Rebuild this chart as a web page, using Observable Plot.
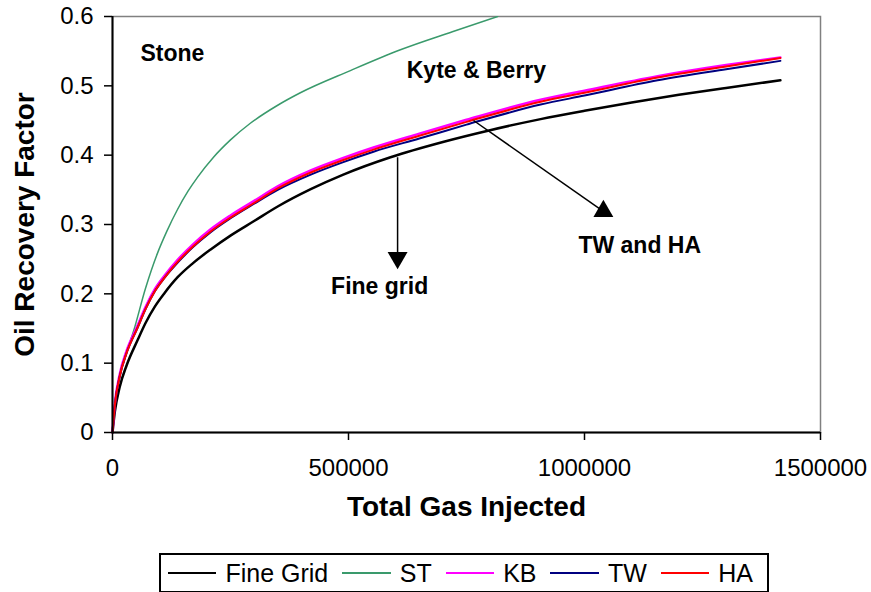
<!DOCTYPE html>
<html><head><meta charset="utf-8">
<script src="https://cdn.jsdelivr.net/npm/d3@7"></script>
<script src="https://cdn.jsdelivr.net/npm/@observablehq/plot@0.6"></script>
<style>
body{margin:0;background:#fff;font-family:"Liberation Sans",Arial,sans-serif;}
#wrap{position:relative;width:871px;height:592px;overflow:hidden;background:#fff}
#chart{position:absolute;left:0;top:0}
#legend{position:absolute;left:159px;top:553px;width:606px;height:36px;border:2px solid #000;display:flex;align-items:center;font-size:25px;color:#000;box-sizing:content-box}
.sw{display:inline-block;height:2px;width:50px;margin-right:9px}
.lt{margin-right:14px;white-space:nowrap}
</style></head><body><div id="wrap"><div id="chart"></div><div id="legend"></div></div>
<script>
// ---- data (gas injected, recovery factor) ----
const gasFine = [0,5000,15000,30000,53000,70000,90000,110000,138000,170000,208000,250000,300000,350000,420000,489000,589000,700000,800000,907000,1000000,1100000,1200000,1300000,1415000];
const rfFine  = [0,0.03,0.065,0.097,0.133,0.158,0.182,0.201,0.224,0.244,0.264,0.284,0.305,0.326,0.351,0.372,0.397,0.419,0.436,0.452,0.464,0.476,0.487,0.497,0.508];

const gasST = [0,5000,15000,30000,45000,70000,95000,115000,138000,160000,180000,214000,250000,292000,350000,398000,504000,610000,720000,816000];
const rfST  = [0,0.04,0.08,0.115,0.147,0.208,0.258,0.29,0.322,0.348,0.368,0.397,0.422,0.446,0.472,0.49,0.522,0.552,0.578,0.6];

const gasCorr = [0,5000,15000,30000,53000,70000,90000,110000,138000,170000,208000,250000,300000,350000,420000,489000,553000,650000,750000,907000,1000000,1155000,1300000,1415000];
const rfKB = [0,0.042,0.083,0.118,0.154,0.181,0.207,0.226,0.249,0.271,0.293,0.313,0.334,0.355,0.378,0.396,0.411,0.431,0.451,0.48,0.493,0.514,0.53,0.541];
const rfTW = [0,0.04,0.08,0.115,0.151,0.178,0.204,0.223,0.245,0.267,0.289,0.309,0.33,0.35,0.372,0.39,0.405,0.424,0.444,0.473,0.486,0.508,0.524,0.536];
const rfHA = [0,0.04,0.08,0.115,0.151,0.178,0.204,0.223,0.246,0.268,0.29,0.31,0.331,0.352,0.375,0.393,0.408,0.428,0.448,0.477,0.49,0.512,0.528,0.54];

const seriesNames = ["Fine Grid","ST","KB","TW","HA"];
const seriesColors = ["#000000","#3a9a6c","#ff00ff","#000080","#ff0000"];

const xTicks = [0,500000,1000000,1500000];
const yTicks = [0,0.1,0.2,0.3,0.4,0.5,0.6];

const noteText = ["Stone","Kyte & Berry","Fine grid","TW and HA"];
const noteGas  = [127000,771000,566000,1117000];
const noteRF   = [0.547,0.522,0.211,0.27];

const arrowGas1 = [604000,765000];
const arrowRF1  = [0.397,0.45];
const arrowGas2 = [604000,1040000];
const arrowRF2  = [0.252,0.319];

// ---- build ----
const zip = (xs, ys) => xs.map((x,i)=>({gas:x, rf:ys[i]}));
const fine = zip(gasFine, rfFine);
const st = zip(gasST, rfST);
const kb = zip(gasCorr, rfKB);
const tw = zip(gasCorr, rfTW);
const ha = zip(gasCorr, rfHA);
const notes = noteText.map((t,i)=>({t, gas:noteGas[i], rf:noteRF[i]}));
const arrows = arrowGas1.map((g,i)=>({x1:g, y1:arrowRF1[i], x2:arrowGas2[i], y2:arrowRF2[i], rot: i===0?180:0}));

const font = '"Liberation Sans", Arial, sans-serif';
const chart = Plot.plot({
  width: 871,
  height: 545,
  marginLeft: 112,
  marginRight: 51,
  marginTop: 16,
  marginBottom: 113,
  style: {fontFamily: font, background: "#fff", color: "#000", overflow: "visible"},
  x: {domain: [0,1500000]},
  y: {domain: [0,0.6]},
  marks: [
    Plot.frame({stroke: "#808080", strokeWidth: 1.5}),
    Plot.line(fine, {x:"gas", y:"rf", stroke: seriesColors[0], strokeWidth: 2.5, curve: "monotone-x"}),
    Plot.line(st,   {x:"gas", y:"rf", stroke: seriesColors[1], strokeWidth: 1.5, curve: "monotone-x", clip: true}),
    Plot.line(kb,   {x:"gas", y:"rf", stroke: seriesColors[2], strokeWidth: 2.5, curve: "monotone-x"}),
    Plot.line(tw,   {x:"gas", y:"rf", stroke: seriesColors[3], strokeWidth: 2, curve: "monotone-x"}),
    Plot.line(ha,   {x:"gas", y:"rf", stroke: seriesColors[4], strokeWidth: 2, curve: "monotone-x"}),
    Plot.ruleX([0], {stroke: "#000", strokeWidth: 2}),
    Plot.ruleY([0], {stroke: "#000", strokeWidth: 2}),
    Plot.axisX({ticks: xTicks, tickFormat: d => String(d), tickSize: 8, tickPadding: 18, fontSize: 24, strokeWidth: 1.5, label: null}),
    Plot.axisY({ticks: yTicks, tickFormat: d => d === 0 ? "0" : d.toFixed(1), tickSize: 8, tickPadding: 11, fontSize: 24, strokeWidth: 1.5, label: null}),
    Plot.text(["Total Gas Injected"], {frameAnchor: "bottom", dy: 75, lineAnchor: "middle", fontSize: 28, fontWeight: "bold"}),
    Plot.text(["Oil Recovery Factor"], {frameAnchor: "left", dx: -87, rotate: -90, textAnchor: "middle", lineAnchor: "middle", fontSize: 28, fontWeight: "bold"}),
    Plot.link(arrows, {x1:"x1", y1:"y1", x2:"x2", y2:"y2", stroke: "#000", strokeWidth: 1.5}),
    Plot.dot(arrows, {x:"x2", y:"y2", symbol: "triangle", r: 7.4, fill: "#000", stroke: null, rotate: "rot"}),
    Plot.text(notes, {x:"gas", y:"rf", text:"t", fontSize: 23, fontWeight: "bold", fill: "#000"})
  ]
});
document.getElementById("chart").appendChild(chart);

const leg = document.getElementById("legend");
seriesNames.forEach((n,i)=>{
  const s = document.createElement("span");
  s.className = "sw";
  s.style.background = seriesColors[i];
  if (i===0) s.style.marginLeft = "7px";
  leg.appendChild(s);
  const t = document.createElement("span");
  t.className = "lt";
  t.textContent = n;
  leg.appendChild(t);
});
</script></body></html>
